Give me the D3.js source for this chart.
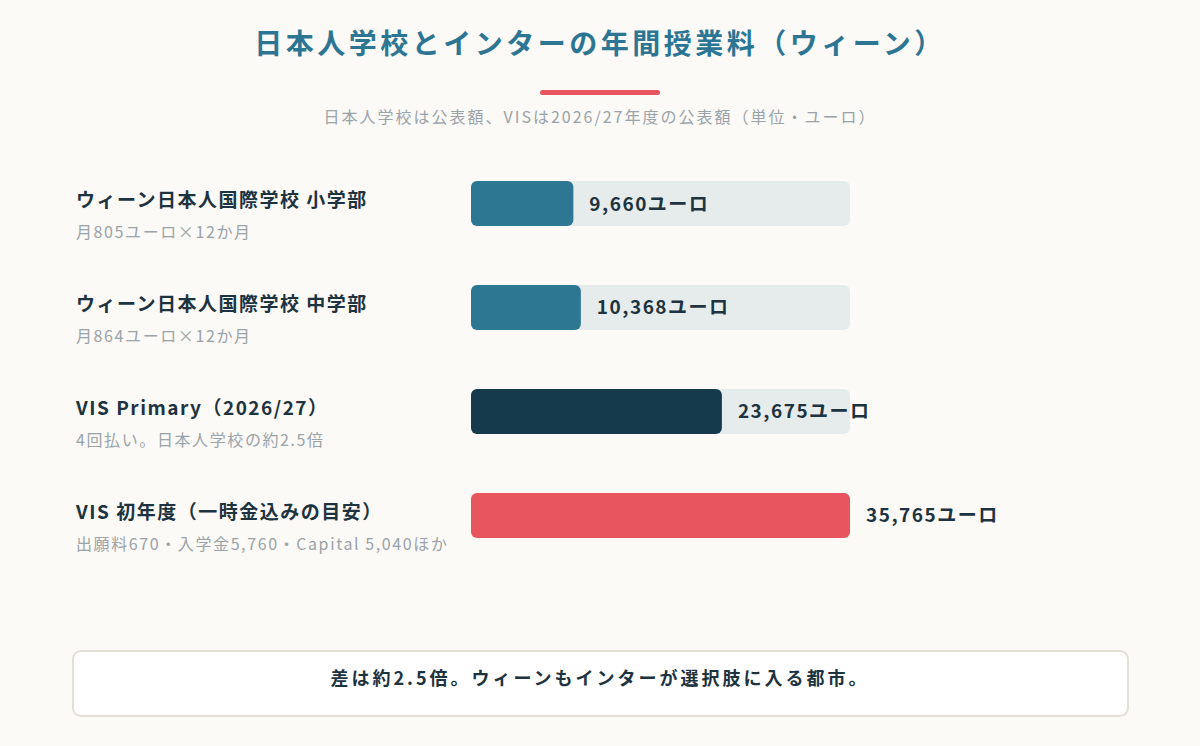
<!DOCTYPE html>
<html><head><meta charset="utf-8">
<script src="https://cdn.jsdelivr.net/npm/d3@7"></script>
<style>body{margin:0;background:#fbfaf7;}svg{display:block;font-family:"Noto Sans CJK JP","Noto Sans",sans-serif;}</style>
</head><body><svg id="chart" width="1200" height="746"></svg>
<script>
const labels = ["ウィーン日本人国際学校 小学部", "ウィーン日本人国際学校 中学部", "VIS Primary（2026/27）", "VIS 初年度（一時金込みの目安）"];
const notes = ["月805ユーロ×12か月", "月864ユーロ×12か月", "4回払い。日本人学校の約2.5倍", "出願料670・入学金5,760・Capital 5,040ほか"];
const values = [9660, 10368, 23675, 35765];
const colors = ["#2d7793", "#2d7793", "#143a4c", "#e8555f"];

const svg = d3.select("#chart");
svg.append("text").attr("x", 600).attr("y", 54).attr("text-anchor", "middle")
  .attr("font-size", 28).attr("letter-spacing", 3.5).attr("font-weight", 700).attr("fill", "#2c7593")
  .text("日本人学校とインターの年間授業料（ウィーン）");
svg.append("rect").attr("x", 540).attr("y", 90).attr("width", 120).attr("height", 5).attr("rx", 2.5).attr("fill", "#e8555f");
svg.append("text").attr("x", 600).attr("y", 123).attr("text-anchor", "middle")
  .attr("font-size", 16).attr("letter-spacing", 2).attr("fill", "#9aa3a8")
  .text("日本人学校は公表額、VISは2026/27年度の公表額（単位・ユーロ）");

const x = d3.scaleLinear().domain([0, d3.max(values)]).range([471, 850]);
const y = d3.scaleBand().domain(d3.range(values.length)).range([181, 538]).paddingInner(0.567).paddingOuter(0);

const row = svg.selectAll("g.row").data(values).join("g").attr("class", "row")
  .attr("transform", (d, i) => `translate(0,${y(i)})`);
row.append("text").attr("x", 76).attr("y", 26).attr("font-size", 19).attr("letter-spacing", 1.5).attr("font-weight", 700).attr("fill", "#1e3340")
  .text((d, i) => labels[i]);
row.append("text").attr("x", 76).attr("y", 57).attr("font-size", 16).attr("letter-spacing", 1.6).attr("fill", "#9aa3a8")
  .text((d, i) => notes[i]);
row.append("rect").attr("x", x(0)).attr("width", x.range()[1] - x(0)).attr("height", y.bandwidth())
  .attr("rx", 6).attr("fill", "#e6ecec");
row.append("rect").attr("x", x(0)).attr("width", d => x(d) - x(0)).attr("height", y.bandwidth())
  .attr("rx", 6).attr("fill", (d, i) => colors[i]);
row.append("text").attr("x", d => x(d) + 16).attr("y", y.bandwidth() / 2 + 7)
  .attr("font-size", 19).attr("letter-spacing", 1.5).attr("font-weight", 700).attr("fill", "#1e3340")
  .text(d => d3.format(",")(d) + "ユーロ");

svg.append("rect").attr("x", 73).attr("y", 651).attr("width", 1055).attr("height", 65).attr("rx", 8)
  .attr("fill", "#fff").attr("stroke", "#e4dfd7").attr("stroke-width", 2);
svg.append("text").attr("x", 600).attr("y", 685).attr("text-anchor", "middle")
  .attr("font-size", 18).attr("letter-spacing", 3).attr("font-weight", 700).attr("fill", "#1e3340")
  .text("差は約2.5倍。ウィーンもインターが選択肢に入る都市。");
</script></body></html>
